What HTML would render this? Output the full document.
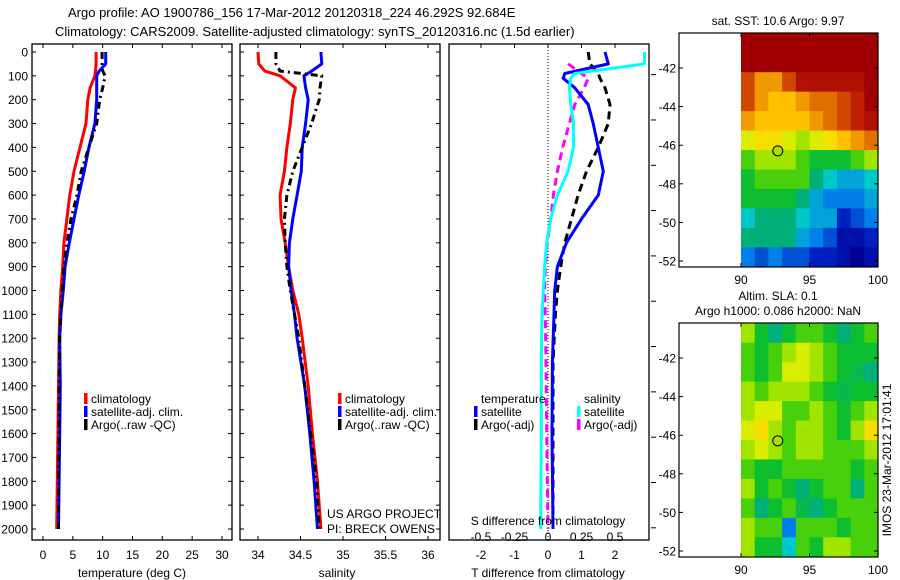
<!DOCTYPE html>
<html><head><meta charset="utf-8"><style>
html,body{margin:0;padding:0;background:#fff;}
svg{display:block;font-family:"Liberation Sans",sans-serif;}
</style></head><body>
<svg id="fig" width="900" height="580" viewBox="0 0 900 580" xmlns="http://www.w3.org/2000/svg">
<text x="68" y="17" font-size="13">Argo profile: AO 1900786_156 17-Mar-2012 20120318_224 46.292S 92.684E</text>
<text x="55" y="36" font-size="13">Climatology: CARS2009. Satellite-adjusted climatology: synTS_20120316.nc (1.5d earlier)</text>
</svg>
<script>
// ---- data ----
const depthsT=[0,50,80,100,150,200,300,400,500,600,700,800,900,1000,1100,1200,1400,1600,1800,2000];
const tempClim=[8.9,8.9,8.8,8.7,7.9,7.5,7.2,6.2,5.2,4.5,4.0,3.5,3.3,3.0,2.8,2.7,2.6,2.5,2.4,2.3];
const tempSat=[10.5,10.5,9.4,9.0,9.0,9.0,8.7,7.7,6.9,6.0,5.2,4.4,3.7,3.4,3.0,2.8,2.9,2.8,2.7,2.6];
const tempArgo=[9.9,9.9,10.0,10.4,10.0,9.5,9.0,7.7,6.4,5.7,4.7,4.0,3.5,3.2,3.0,2.8,2.7,2.7,2.6,2.6];
const salClim=[34.0,34.01,34.08,34.26,34.44,34.41,34.38,34.34,34.31,34.26,34.27,34.32,34.36,34.41,34.48,34.52,34.59,34.64,34.70,34.74];
const salSat=[34.74,34.75,34.63,34.54,34.56,34.59,34.56,34.52,34.51,34.46,34.41,34.37,34.36,34.39,34.43,34.46,34.55,34.61,34.66,34.70];
const salArgo=[34.21,34.21,34.26,34.75,34.73,34.72,34.63,34.52,34.41,34.34,34.31,34.32,34.34,34.38,34.43,34.48,34.55,34.62,34.69,34.72];
const depthsD=[0,50,90,110,150,220,300,400,500,600,700,800,900,1000,1100,1300,1600,2000];
const dTsat=[1.7,1.8,0.5,0.45,0.8,1.2,1.35,1.5,1.65,1.5,1.0,0.55,0.28,0.2,0.18,0.13,0.12,0.15];
const dTargo=[1.2,1.25,1.5,1.55,1.7,1.85,1.8,1.5,1.15,0.9,0.7,0.5,0.38,0.28,0.22,0.15,0.15,0.15];
const dSsat=[0.72,0.72,0.2,0.17,0.16,0.17,0.19,0.19,0.15,0.07,0.02,-0.01,-0.025,-0.035,-0.045,-0.05,-0.05,-0.055];
const dSargo=[0.19,0.15,0.25,0.3,0.27,0.2,0.16,0.11,0.07,0.04,0.02,-0.005,-0.02,-0.025,-0.02,-0.015,-0.01,0];
const depthTicks=[0,100,200,300,400,500,600,700,800,900,1000,1100,1200,1300,1400,1500,1600,1700,1800,1900,2000];
const tempTicks=[0,5,10,15,20,25,30];
const salTicks=[34,34.5,35,35.5,36];
const tdTicks=[-2,-1,0,1,2];
const sdTicks=[-0.5,-0.25,0,0.25,0.5];
const sdTickLabels=["-0.5","-0.25","0","0.25","0.5"];
const lonTicks=[90,95,100];
const latTicks=[-42,-44,-46,-48,-50,-52];
const sstGrid=[
[10,10,10,10,10,10,10,10,10,10],
[10,9.5,9.5,10,10,10,10,9.5,10,10],
[8,7,7,8,9,9,9,9,9,9.5],
[8,7,6.5,6.5,7,7.5,7.5,8,8.5,9.5],
[7,6.5,6.5,6.5,6.5,7,7.5,8,8.5,9],
[5.5,6,6,5.5,5,5.5,6,6.5,7,7.5],
[4.5,5,5,5,4.5,4,4,4,4.5,5],
[4,4.5,4.5,4.5,4.5,3.5,3,2.5,2.5,3],
[4,4,4,4,3.5,2.5,2,2,2,2.5],
[3,3.5,3.5,3.5,3,2.5,2.5,1,1.5,2],
[3.5,3.5,3.5,3.5,2.5,2,1.5,0.5,0.5,1],
[2,1.5,2,1.5,1.5,1,1,0.5,0,0.5]];
const slaGrid=[
[5,4,3.5,4,4.5,4.5,4,3.5,4,4.5],
[4.5,4,4.5,5,5.5,5,4.5,4,4,4],
[4.5,4,4.5,5.5,5.5,5,4.5,4,3.8,3.5],
[5,4.5,5,5,5,4.5,4,3.8,4,4],
[5,5.5,5.5,4.5,4.5,5,4.5,4,4.5,5],
[5.5,6,5,4.5,5,5,4.5,4,5,6],
[5,5.5,5,4.5,5,5,4.5,4.5,4.5,5],
[4.5,4,4,4.5,4.5,4.5,4.5,4.5,4,4.5],
[5,4,4.5,4,3.5,4,4.5,4.5,3.5,4.5],
[4.5,3.5,4,4.5,3.8,3.5,4,4.5,4.5,4.5],
[5,4.5,4.5,2,4.5,4.5,4.5,4,4.5,4.5],
[5,4,4,3,4.5,4,5,5,4.5,4.5]];
const floatLon=92.684, floatLat=-46.292;

// ---- helpers ----
const svg=document.getElementById('fig');
const NS='http://www.w3.org/2000/svg';
const FS=12;
function mk(tag,attrs,parent){const e=document.createElementNS(NS,tag);for(const k in attrs)e.setAttribute(k,attrs[k]);(parent||svg).appendChild(e);return e;}
const yD=d=>52+d*0.2385;
function lin(d0,d1,p0,p1){return v=>p0+(v-d0)*(p1-p0)/(d1-d0);}
const xT=lin(0,30,43,222), xS=lin(34,36,258,428), xTD=lin(0,2,548,615), xSD=v=>xTD(v*4);
const TOP=44, BOT=540;

function frame(x0,x1,name){
  const r=mk('rect',{x:x0,y:TOP,width:x1-x0,height:BOT-TOP,fill:'none',stroke:'#000','stroke-width':1.3});
  
  
  depthTicks.forEach(d=>{
    mk('line',{x1:x0,x2:x0+4,y1:yD(d),y2:yD(d),stroke:'#000'});
    mk('line',{x1:x1,x2:x1-4,y1:yD(d),y2:yD(d),stroke:'#000'});
  });
}
function xticks(ticks,fx,labels,name){
  ticks.forEach((t,i)=>{
    const x=fx(t);
    mk('line',{x1:x,x2:x,y1:BOT,y2:BOT-4,stroke:'#000'});
    mk('line',{x1:x,x2:x,y1:TOP,y2:TOP+4,stroke:'#000'});
    const tx=mk('text',{x:x,y:559,'font-size':FS,'text-anchor':'middle'});
    tx.textContent=labels?labels[i]:String(t);
    
    
  });
}
function line(xs,ds,fx,color,w,dash,name){
  const pts=xs.map((v,i)=>fx(v).toFixed(1)+','+yD(ds[i]).toFixed(1)).join(' ');
  const p=mk('polyline',{points:pts,fill:'none',stroke:color,'stroke-width':w,'stroke-linejoin':'round'});
  if(dash)p.setAttribute('stroke-dasharray',dash);
  
  
}
function txt(x,y,s,name,size,anchor){
  const t=mk('text',{x:x,y:y,'font-size':size||FS,'text-anchor':anchor||'start'});
  t.textContent=s;
  
  
  return t;
}
function legMark(x,y,color,name){
  const r=mk('rect',{x:x,y:y-10,width:3.5,height:11,fill:color});
  
  
}

depthTicks.forEach(d=>{txt(28,yD(d)+4.5,String(d),'depth-tick-label',FS,'end');});

// panel 1 temperature
frame(32,232,'temperature-panel');
xticks(tempTicks,xT,null,'temperature-tick-label');
line(tempClim,depthsT,xT,'#ff0000',3,null,'temp-climatology-line');
line(tempSat,depthsT,xT,'#0000ff',3,null,'temp-satellite-line');
line(tempArgo,depthsT,xT,'#000000',3,'7,4,2,4','temp-argo-line');
txt(132,577,'temperature (deg C)','temperature-axis-title',FS,'middle');
legMark(84,403,'#ff0000','legend-climatology-marker');txt(91,403,'climatology','legend-climatology');
legMark(84,416,'#0000ff','legend-satellite-marker');txt(91,416,'satellite-adj. clim.','legend-satellite');
legMark(84,429,'#000000','legend-argo-marker');txt(91,429,'Argo(..raw -QC)','legend-argo');

// panel 2 salinity
frame(240,440,'salinity-panel');
xticks(salTicks,xS,null,'salinity-tick-label');
line(salClim,depthsT,xS,'#ff0000',3,null,'sal-climatology-line');
line(salSat,depthsT,xS,'#0000ff',3,null,'sal-satellite-line');
line(salArgo,depthsT,xS,'#000000',3,'7,4,2,4','sal-argo-line');
txt(337,577,'salinity','salinity-axis-title',FS,'middle');
legMark(338,403,'#ff0000','legend2-climatology-marker');txt(345,403,'climatology','legend2-climatology');
legMark(338,416,'#0000ff','legend2-satellite-marker');txt(345,416,'satellite-adj. clim.','legend2-satellite');
legMark(338,429,'#000000','legend2-argo-marker');txt(345,429,'Argo(..raw -QC)','legend2-argo');
txt(327,518,'US ARGO PROJECT','project-label');
txt(327,533,'PI: BRECK OWENS','pi-label');

// panel 3 differences
const dp=mk('rect',{x:449,y:TOP,width:200,height:BOT-TOP,fill:'none',stroke:'#000','stroke-width':1.3});


tdTicks.forEach(t=>{const x=xTD(t);mk('line',{x1:x,x2:x,y1:TOP,y2:TOP+4,stroke:'#000'});
  txt(x,559,String(t),'t-diff-tick-label',FS,'middle');});
[100,300,500,700,900,1100,1300,1500,1700,1900,2100].forEach(d=>{mk('line',{x1:651,x2:656,y1:yD(d*0.95),y2:yD(d*0.95),stroke:'#000'});});
mk('line',{x1:548,x2:548,y1:TOP,y2:BOT,stroke:'#000','stroke-dasharray':'1,2'});
line(dSargo.slice(1),depthsD.slice(1),xSD,'#ff00ff',3,'8,5','s-diff-argo-line');
line(dTargo,depthsD,xTD,'#000000',3,'8,5','t-diff-argo-line');
line(dTsat,depthsD,xTD,'#0000ff',3,null,'t-diff-satellite-line');
line(dSsat,depthsD,xSD,'#00ffff',3,null,'s-diff-satellite-line');
txt(548,577,'T difference from climatology','t-diff-axis-title',FS,'middle');
txt(548,525,'S difference from climatology','s-diff-axis-title',FS,'middle');
sdTicks.forEach((t,i)=>{txt(xSD(t),541,sdTickLabels[i],'s-diff-tick-label',FS,'middle');});
txt(481,403,'temperature','legend3-temperature-heading');
legMark(474,416,'#0000ff','legend3-t-satellite-marker');txt(481,416,'satellite','legend3-t-satellite');
legMark(474,429,'#000000','legend3-t-argo-marker');txt(481,429,'Argo(-adj)','legend3-t-argo');
txt(584,403,'salinity','legend3-salinity-heading');
legMark(577,416,'#00ffff','legend3-s-satellite-marker');txt(584,416,'satellite','legend3-s-satellite');
legMark(577,429,'#ff00ff','legend3-s-argo-marker');txt(584,429,'Argo(-adj)','legend3-s-argo');

// ---- maps ----
const cmapStops=[[0,[0,0,144]],[1,[0,32,192]],[2,[0,128,232]],[3,[0,200,200]],[3.5,[0,176,120]],[4.2,[20,196,20]],[5,[160,228,0]],[5.7,[240,240,0]],[6.5,[255,192,0]],[7.5,[224,112,0]],[8.5,[192,32,0]],[9.5,[160,0,0]],[10,[160,0,0]]];
function cmap(v){
  for(let i=1;i<cmapStops.length;i++){const [a,ca]=cmapStops[i-1],[b,cb]=cmapStops[i];
    if(v<=b){const f=Math.max(0,(v-a)/(b-a));return 'rgb('+ca.map((c,j)=>Math.round(c+(cb[j]-c)*f)).join(',')+')';}}
  return 'rgb(160,0,0)';
}
function drawMap(top,grid,name,titleLines){
  const fx=lin(90,100,741,878), fy=lin(-42,-52,top+35,top+228);
  const bottom=top+234, latTop=-40.2, latBot=-52.3;
  const nR=grid.length;
  const dLat=(latTop-latBot)/nR;
  grid.forEach((row,r)=>row.forEach((v,c)=>{
    const x0=fx(90+c), x1=fx(91+c), y0=fy(latTop-r*dLat), y1=fy(latTop-(r+1)*dLat);
    const cell=mk('rect',{x:x0,y:y0,width:x1-x0+0.5,height:y1-y0+0.5,fill:cmap(v)});
    
    
  }));
  const fr=mk('rect',{x:679,y:top,width:199,height:234,fill:'none',stroke:'#000','stroke-width':1.2});
  
  
  latTicks.forEach(l=>{const y=fy(l);mk('line',{x1:679,x2:683,y1:y,y2:y,stroke:'#000'});mk('line',{x1:878,x2:874,y1:y,y2:y,stroke:'#000'});
    txt(676,y+4.5,String(l),name+'-lat-label',FS,'end');});
  lonTicks.forEach(l=>{const x=fx(l);mk('line',{x1:x,x2:x,y1:bottom,y2:bottom-4,stroke:'#000'});mk('line',{x1:x,x2:x,y1:top,y2:top+4,stroke:'#000'});
    txt(x,bottom+17,String(l),name+'-lon-label',FS,'middle');});
  const c=mk('circle',{cx:fx(floatLon),cy:fy(floatLat),r:5,fill:'#a8e000',stroke:'#000','stroke-width':1});
  
  
  titleLines.forEach((s,i)=>txt(778,top-(titleLines.length-1-i)*15-8,s,name+'-title',FS,'middle'));
}
drawMap(33,sstGrid,'sst-map',['sat. SST: 10.6 Argo: 9.97']);
drawMap(323,slaGrid,'sla-map',['Altim. SLA: 0.1','Argo h1000: 0.086 h2000: NaN']);
const ts=txt(0,0,'IMOS 23-Mar-2012 17:01:41','timestamp-label',FS,'middle');
ts.setAttribute('transform','translate(891,460) rotate(-90)');
</script>
</body></html>
